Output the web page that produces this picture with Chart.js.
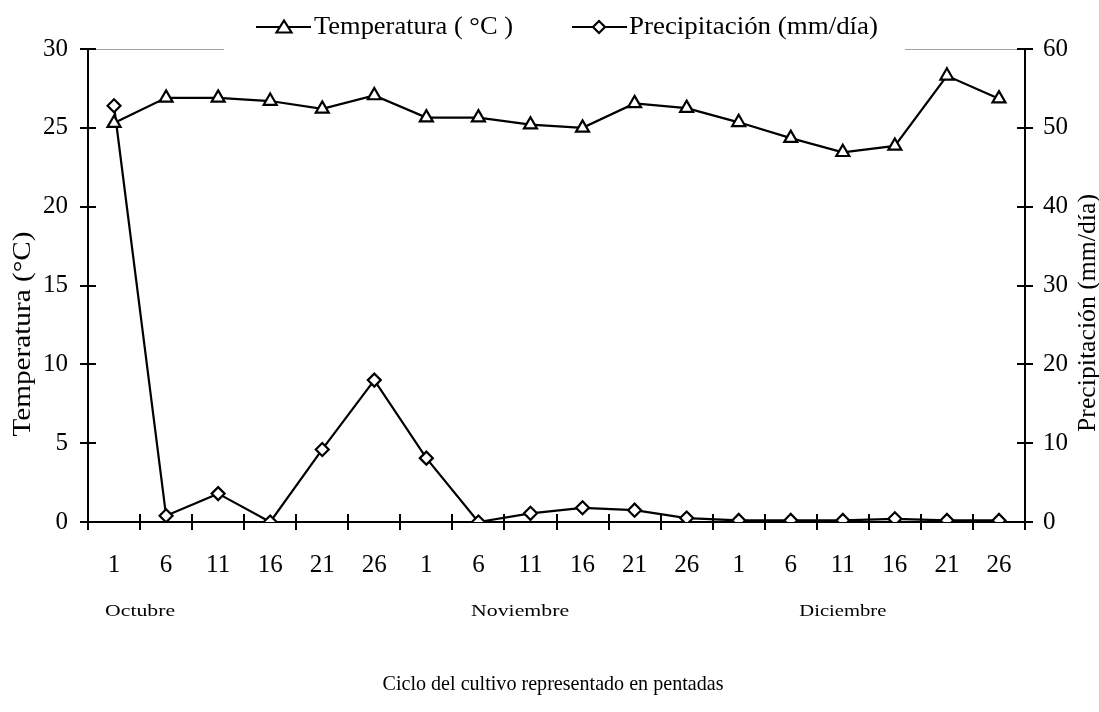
<!DOCTYPE html>
<html>
<head>
<meta charset="utf-8">
<script src="https://cdn.jsdelivr.net/npm/chart.js@4.4.1/dist/chart.umd.min.js"></script>
<style>
  html, body { margin: 0; padding: 0; background: #ffffff; }
  #wrap { width: 1099px; height: 712px; position: relative; }
</style>
</head>
<body>
<div id="wrap"><canvas id="c" width="1099" height="712"></canvas></div>
<script>
// ---- Data ----
const dayLabels = ['1','6','11','16','21','26','1','6','11','16','21','26','1','6','11','16','21','26'];
const temperature = [25.3, 26.9, 26.9, 26.7, 26.2, 27.05, 25.65, 25.65, 25.2, 25.0, 26.55, 26.25, 25.35, 24.35, 23.45, 23.85, 28.3, 26.85];
const precipitation = [52.8, 0.8, 3.6, 0.0, 9.2, 18.0, 8.1, 0.0, 1.1, 1.8, 1.5, 0.5, 0.2, 0.2, 0.2, 0.4, 0.2, 0.2];
const monthLabels = ['Octubre', 'Noviembre', 'Diciembre'];
const monthIndexPos = [0.5, 7.8, 14.0];
const tempTitle = 'Temperatura (°C)';
const precTitle = 'Precipitación (mm/día)';
const xTitle = 'Ciclo del cultivo representado en pentadas';
const legendTemp = 'Temperatura ( °C )';
const legendPrec = 'Precipitación (mm/día)';

const FONT = '"Liberation Serif", "Times New Roman", serif';

function drawMarker(ctx, type, x, y) {
  ctx.save();
  ctx.fillStyle = '#fff';
  ctx.strokeStyle = '#000';
  ctx.lineWidth = 2.2;
  ctx.beginPath();
  if (type === 'tri') {
    const r = 7.5;
    ctx.moveTo(x, y - r);
    ctx.lineTo(x + r, y + r * 0.6);
    ctx.lineTo(x - r, y + r * 0.6);
  } else {
    const r = 6;
    ctx.moveTo(x, y - r);
    ctx.lineTo(x + r, y);
    ctx.lineTo(x, y + r);
    ctx.lineTo(x - r, y);
  }
  ctx.closePath();
  ctx.fill();
  ctx.stroke();
  ctx.restore();
}

// draw text centred, nudged horizontally to a target width
function fitText(ctx, text, cx, cy, size, width, rot) {
  ctx.save();
  ctx.font = size + 'px ' + FONT;
  const w = ctx.measureText(text).width;
  ctx.translate(cx, cy);
  if (rot) ctx.rotate(rot);
  ctx.scale(width / w, 1);
  ctx.textAlign = 'center';
  ctx.textBaseline = 'middle';
  ctx.fillText(text, 0, 0);
  ctx.restore();
}

const decorPlugin = {
  id: 'decor',
  afterDraw(chart) {
    const ctx = chart.ctx;
    const ca = chart.chartArea;
    const xs = chart.scales.x, y = chart.scales.y, y2 = chart.scales.y2;
    ctx.save();
    // faint top border fragments
    ctx.strokeStyle = '#a0a0a0';
    ctx.lineWidth = 1;
    ctx.beginPath();
    ctx.moveTo(ca.left + 8, ca.top + 0.5); ctx.lineTo(224, ca.top + 0.5);
    ctx.moveTo(905, ca.top + 0.5); ctx.lineTo(ca.right - 6, ca.top + 0.5);
    ctx.stroke();
    // inner tick halves
    ctx.strokeStyle = '#000';
    ctx.lineWidth = 2;
    ctx.beginPath();
    y.ticks.forEach(t => {
      const p = Math.round(y.getPixelForValue(t.value));
      ctx.moveTo(ca.left, p); ctx.lineTo(ca.left + 8, p);
    });
    y2.ticks.forEach(t => {
      const p = Math.round(y2.getPixelForValue(t.value));
      ctx.moveTo(ca.right, p); ctx.lineTo(ca.right - 8, p);
    });
    for (let i = 0; i <= dayLabels.length; i++) {
      const p = Math.round(xs.getPixelForValue(i - 0.5));
      ctx.moveTo(p, ca.bottom); ctx.lineTo(p, ca.bottom - 8);
    }
    ctx.stroke();

    ctx.fillStyle = '#000';
    // axis titles
    fitText(ctx, tempTitle, 23, 334, 26, 205, -Math.PI / 2);
    fitText(ctx, precTitle, 1088, 313, 25, 238, -Math.PI / 2);

    // month labels
    const monthW = [70, 98, 87];
    monthLabels.forEach((m, i) => {
      fitText(ctx, m, xs.getPixelForValue(monthIndexPos[i]), 612, 17, monthW[i], 0);
    });
    // x title
    fitText(ctx, xTitle, 553, 684, 21, 341, 0);

    // legend
    ctx.lineWidth = 2.2;
    ctx.beginPath(); ctx.moveTo(256, 27); ctx.lineTo(311, 27); ctx.stroke();
    drawMarker(ctx, 'tri', 284, 28);
    ctx.beginPath(); ctx.moveTo(572, 27); ctx.lineTo(627, 27); ctx.stroke();
    drawMarker(ctx, 'dia', 599, 27);
    fitText(ctx, legendTemp, 314 + 199 / 2, 27, 26, 199, 0);
    fitText(ctx, legendPrec, 629 + 249 / 2, 27, 26, 249, 0);
    ctx.restore();
  }
};

const ctx = document.getElementById('c').getContext('2d');
new Chart(ctx, {
  type: 'line',
  data: {
    labels: dayLabels,
    datasets: [
      {
        label: legendTemp,
        data: temperature,
        yAxisID: 'y',
        borderColor: '#000',
        borderWidth: 2.2,
        pointStyle: 'triangle',
        pointRadius: 7.5,
        pointBorderWidth: 2.2,
        pointBackgroundColor: '#fff',
        pointBorderColor: '#000',
        tension: 0
      },
      {
        label: legendPrec,
        data: precipitation,
        yAxisID: 'y2',
        borderColor: '#000',
        borderWidth: 2.2,
        pointStyle: 'rectRot',
        pointRadius: 6.5,
        pointBorderWidth: 2.2,
        pointBackgroundColor: '#fff',
        pointBorderColor: '#000',
        tension: 0
      }
    ]
  },
  options: {
    responsive: false,
    animation: false,
    layout: { padding: { top: 49, left: 0, right: 0, bottom: 0 } },
    plugins: { legend: { display: false }, tooltip: { enabled: false } },
    scales: {
      x: {
        offset: true,
        grid: { offset: true, drawOnChartArea: false, color: '#000', lineWidth: 2, tickLength: 8 },
        border: { color: '#000', width: 2 },
        ticks: { color: '#000', font: { family: FONT, size: 25 }, padding: 20, maxRotation: 0, autoSkip: false },
        afterFit(s) { s.height = 190; }
      },
      y: {
        position: 'left',
        min: 0, max: 30,
        grid: { drawOnChartArea: false, color: '#000', lineWidth: 2, tickLength: 8 },
        border: { color: '#000', width: 2 },
        ticks: { stepSize: 5, color: '#000', font: { family: FONT, size: 25 }, padding: 12 },
        afterFit(s) { s.width = 88; }
      },
      y2: {
        position: 'right',
        min: 0, max: 60,
        grid: { drawOnChartArea: false, color: '#000', lineWidth: 2, tickLength: 8 },
        border: { color: '#000', width: 2 },
        ticks: { stepSize: 10, color: '#000', font: { family: FONT, size: 25 }, padding: 10 },
        afterFit(s) { s.width = 74; }
      }
    }
  },
  plugins: [decorPlugin]
});
</script>
</body>
</html>
